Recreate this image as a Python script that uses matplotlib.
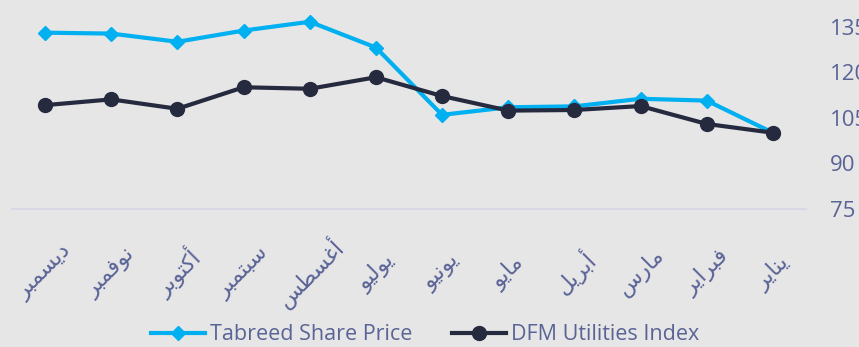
import matplotlib
matplotlib.use("Agg")
import matplotlib.pyplot as plt

# months, drawn right-to-left (January on the right)
months = ["ديسمبر", "نوفمبر", "أكتوبر", "سبتمبر", "أغسطس", "يوليو",
          "يونيو", "مايو", "أبريل", "مارس", "فبراير", "يناير"]
tabreed = [133.0, 132.7, 130.0, 133.7, 136.6, 128.1,
           105.9, 108.4, 108.7, 111.2, 110.6, 100.0]
dfm = [109.1, 111.0, 107.9, 115.0, 114.5, 118.3,
       112.1, 107.3, 107.5, 108.8, 102.9, 100.0]
yticks = [75, 90, 105, 120, 135]

# isolated, final, initial, medial presentation forms
FORMS = {
    "ا": ("\uFE8D", "\uFE8E", None, None),
    "أ": ("\uFE83", "\uFE84", None, None),
    "ب": ("\uFE8F", "\uFE90", "\uFE91", "\uFE92"),
    "ت": ("\uFE95", "\uFE96", "\uFE97", "\uFE98"),
    "د": ("\uFEA9", "\uFEAA", None, None),
    "ر": ("\uFEAD", "\uFEAE", None, None),
    "س": ("\uFEB1", "\uFEB2", "\uFEB3", "\uFEB4"),
    "ط": ("\uFEC1", "\uFEC2", "\uFEC3", "\uFEC4"),
    "غ": ("\uFECD", "\uFECE", "\uFECF", "\uFED0"),
    "ف": ("\uFED1", "\uFED2", "\uFED3", "\uFED4"),
    "ك": ("\uFED9", "\uFEDA", "\uFEDB", "\uFEDC"),
    "ل": ("\uFEDD", "\uFEDE", "\uFEDF", "\uFEE0"),
    "م": ("\uFEE1", "\uFEE2", "\uFEE3", "\uFEE4"),
    "ن": ("\uFEE5", "\uFEE6", "\uFEE7", "\uFEE8"),
    "و": ("\uFEED", "\uFEEE", None, None),
    "ي": ("\uFEF1", "\uFEF2", "\uFEF3", "\uFEF4"),
}


def shape(word):
    # join letters and reverse them, matplotlib lays text out left to right
    out = []
    for i, ch in enumerate(word):
        f = FORMS[ch]
        prev_joins = i > 0 and FORMS[word[i - 1]][2] is not None
        next_joins = f[2] is not None and i < len(word) - 1
        if prev_joins and next_joins:
            out.append(f[3])
        elif next_joins:
            out.append(f[2])
        elif prev_joins:
            out.append(f[1])
        else:
            out.append(f[0])
    return "".join(reversed(out))


bg = "#e6e6e6"
txt = "#5a6396"
plt.rcParams["font.family"] = ["Open Sans", "DejaVu Sans"]

fig = plt.figure(figsize=(8.59, 3.47), dpi=100, facecolor=bg)
ax = fig.add_axes([12 / 859, 0.399, 794 / 859, 0.568], facecolor=bg)

x = list(range(len(months)))
ax.plot(x, tabreed, color="#00b0f0", linewidth=3, marker="D", markersize=7,
        label="Tabreed Share Price", zorder=2)
ax.plot(x, dfm, color="#262a3f", linewidth=3, marker="o", markersize=10,
        label="DFM Utilities Index", zorder=3)

ax.set_xlim(-0.5, len(months) - 0.5)
ax.set_ylim(75, 140)
ax.set_yticks(yticks)
ax.set_xticks(x)
ax.set_xticklabels([shape(m) for m in months], rotation=45, ha="center",
                   va="center", family="DejaVu Sans", fontsize=16, color=txt)

ax.yaxis.tick_right()
ax.tick_params(axis="y", length=0, pad=17, labelsize=16, labelcolor=txt)
ax.tick_params(axis="x", length=0, pad=46)
for s in ["top", "left", "right"]:
    ax.spines[s].set_visible(False)
ax.spines["bottom"].set_color("#d9d9e6")
ax.spines["bottom"].set_linewidth(1.5)

leg = fig.legend(loc="center", bbox_to_anchor=(0.495, 0.035), ncol=2,
                 frameon=False, fontsize=15.5, handlelength=2.5,
                 columnspacing=1.85, handletextpad=0.25)
for t in leg.get_texts():
    t.set_color(txt)

fig.savefig("out.png", dpi=100, facecolor=bg)
